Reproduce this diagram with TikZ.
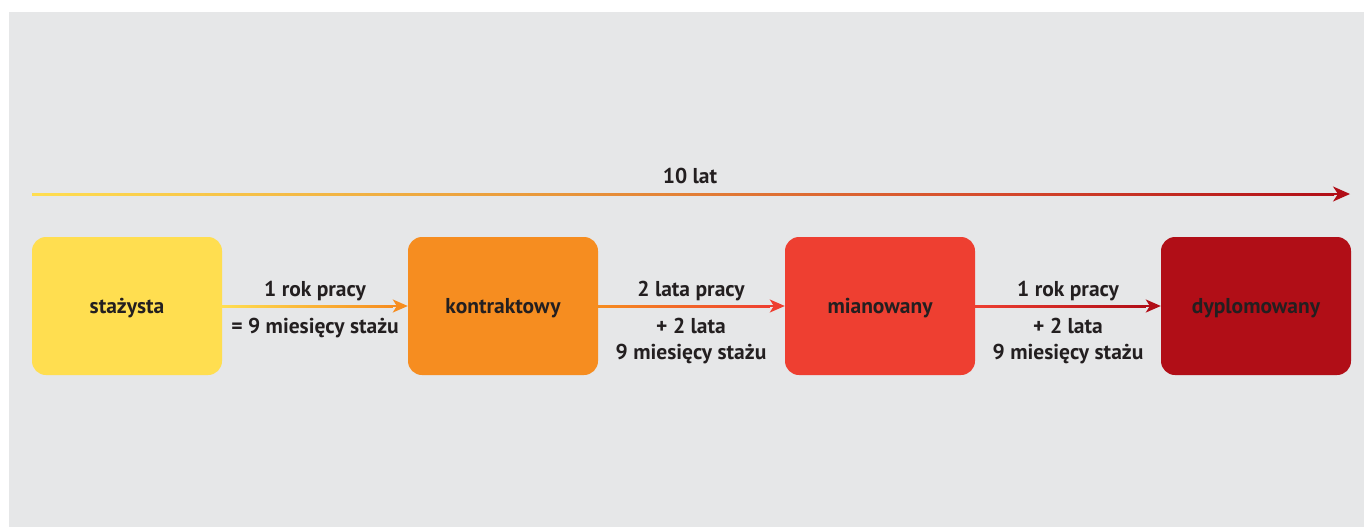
\documentclass[tikz,border=0pt]{standalone}
\usepackage{fontspec}
\setmainfont{PT Sans}
\usetikzlibrary{arrows.meta,calc}
\definecolor{bg}{HTML}{E6E7E8}
\definecolor{yel}{HTML}{FFDE50}
\definecolor{org}{HTML}{F68D20}
\definecolor{rd}{HTML}{EE3F31}
\definecolor{drd}{HTML}{B10E17}
\definecolor{txt}{HTML}{231F20}
\definecolor{tlA}{HTML}{E8963A}
\definecolor{tlB}{HTML}{D5492C}
\begin{document}
\begin{tikzpicture}[x=1pt,y=-1pt,
  box/.style={rounded corners=14pt, minimum width=190pt, minimum height=138pt, inner sep=0pt},
  boxtxt/.style={text=txt, font=\bfseries\fontsize{21.5}{24}\selectfont, anchor=base, inner sep=0pt},
  lbl/.style={text=txt, font=\bfseries\fontsize{21.5}{24}\selectfont, anchor=base, inner sep=0pt},
  tip/.style={-{Stealth[length=15pt,width=13pt,inset=4pt]}, line width=2pt},
  bigtip/.style={-{Stealth[length=17pt,width=15pt,inset=5pt]}, line width=2pt}]
\useasboundingbox (0,0) rectangle (1364,527);
\fill[bg] (9,12) rectangle (1364,527);

% boxes
\node[box, fill=yel] (s) at (127,306) {};
\node[box, fill=org] (k) at (503,306) {};
\node[box, fill=rd]  (m) at (880,306) {};
\node[box, fill=drd] (d) at (1256,306) {};
\node[boxtxt] (st) at (127,313) {stażysta};
\node[boxtxt] (kt) at (503,313) {kontraktowy};
\node[boxtxt] (mt) at (880,313) {mianowany};
\node[boxtxt] (dt) at (1256,313) {dyplomowany};

% timeline
\coordinate (t0) at (32,194);
\coordinate (ta) at (560,194);
\coordinate (tb) at (1000,194);
\coordinate (tc) at (1334,194);
\coordinate (t1) at (1350,194);
\shade[left color=yel, right color=tlA] ($(t0)+(0,-1)$) rectangle ($(ta)+(0,1)$);
\shade[left color=tlA, right color=tlB] ($(ta)+(0,-1)$) rectangle ($(tb)+(0,1)$);
\shade[left color=tlB, right color=drd] ($(tb)+(0,-1)$) rectangle ($(tc)+(0,1)$);
\draw[drd, bigtip] (tc) -- (t1);
\node[lbl] (tl) at (690,183) {10 lat};

% connectors
\draw[org, tip] (s.east) -- (k.west);
\shade[left color=yel, right color=org] ($(s.east)+(0,-1)$) rectangle ($(k.west)+(-15,1)$);
\draw[rd, tip] (k.east) -- (m.west);
\shade[left color=org, right color=rd] ($(k.east)+(0,-1)$) rectangle ($(m.west)+(-15,1)$);
\draw[drd, tip] (m.east) -- (d.west);
\shade[left color=rd, right color=drd] ($(m.east)+(0,-1)$) rectangle ($(d.west)+(-15,1)$);

% labels
\node[lbl] (l1a) at (315,296) {1 rok pracy};
\node[lbl] (l1b) at (315,333) {= 9 miesięcy stażu};
\node[lbl] (l2a) at (691,296) {2 lata pracy};
\node[lbl] (l2b) at (691,333) {+ 2 lata};
\node[lbl] (l2c) at (691,359) {9 miesięcy stażu};
\node[lbl] (l3a) at (1068,296) {1 rok pracy};
\node[lbl] (l3b) at (1068,333) {+ 2 lata};
\node[lbl] (l3c) at (1068,359) {9 miesięcy stażu};
\end{tikzpicture}
\end{document}
